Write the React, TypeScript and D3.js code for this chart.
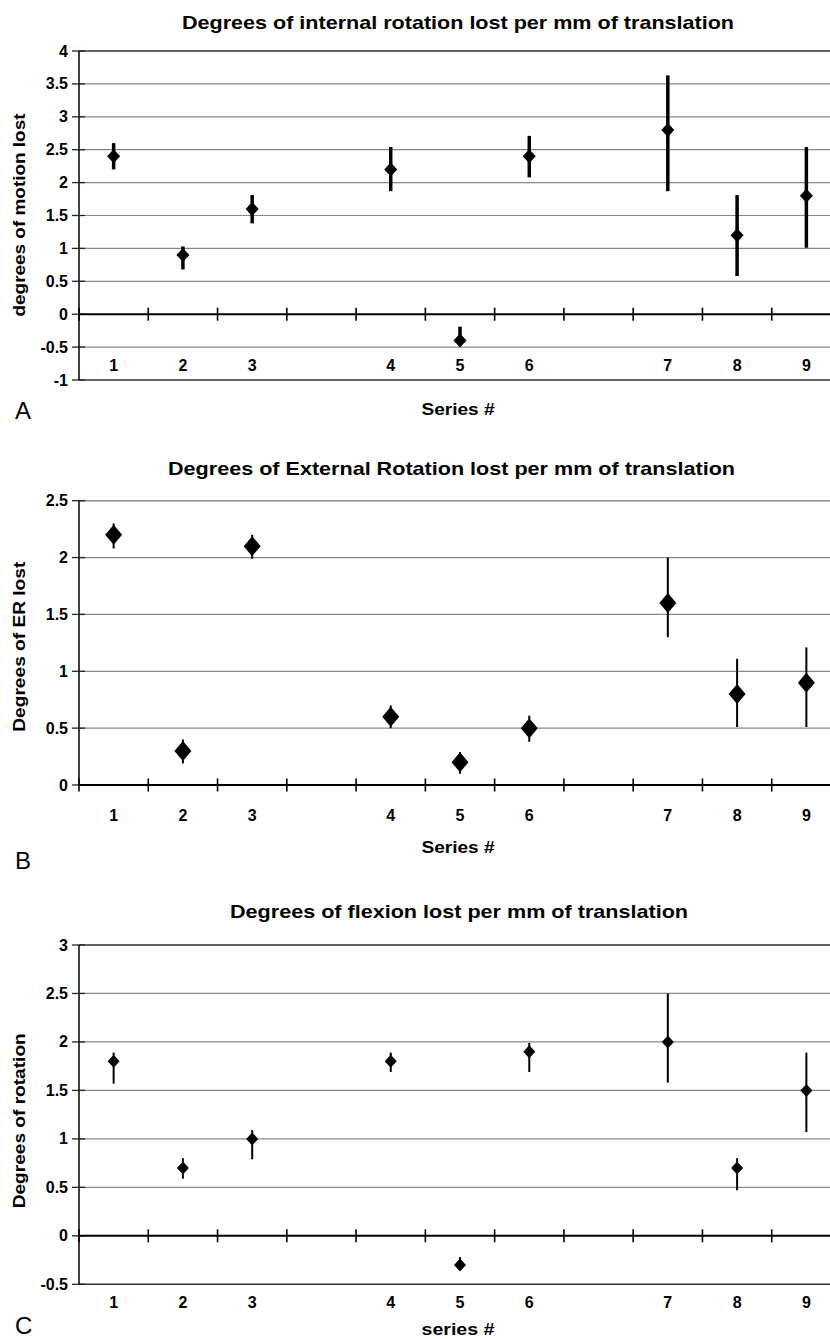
import React from "react";
import * as d3 from "d3";

const categories = ["1", "2", "3", "", "4", "5", "6", "", "7", "8", "9"];
const seriesIds = ["1", "2", "3", "4", "5", "6", "7", "8", "9"];
const slotKeys = ["s1", "s2", "s3", "g1", "s4", "s5", "s6", "g2", "s7", "s8", "s9"];
const seriesSlots = ["s1", "s2", "s3", "s4", "s5", "s6", "s7", "s8", "s9"];

const irValues = [2.4, 0.9, 1.6, 2.2, -0.4, 2.4, 2.8, 1.2, 1.8];
const irUpper = [2.6, 1.03, 1.81, 2.54, -0.19, 2.71, 3.63, 1.81, 2.54];
const irLower = [2.2, 0.68, 1.38, 1.87, -0.45, 2.08, 1.87, 0.58, 1.01];
const irTicks = [-1, -0.5, 0, 0.5, 1, 1.5, 2, 2.5, 3, 3.5, 4];

const erValues = [2.2, 0.3, 2.1, 0.6, 0.2, 0.5, 1.6, 0.8, 0.9];
const erUpper = [2.3, 0.4, 2.2, 0.7, 0.29, 0.61, 2.0, 1.11, 1.21];
const erLower = [2.08, 0.19, 1.99, 0.5, 0.1, 0.38, 1.3, 0.51, 0.51];
const erTicks = [0, 0.5, 1, 1.5, 2, 2.5];

const flValues = [1.8, 0.7, 1.0, 1.8, -0.3, 1.9, 2.0, 0.7, 1.5];
const flUpper = [1.89, 0.8, 1.09, 1.89, -0.22, 1.99, 2.5, 0.8, 1.89];
const flLower = [1.57, 0.59, 0.79, 1.69, -0.35, 1.69, 1.58, 0.47, 1.07];
const flTicks = [-0.5, 0, 0.5, 1, 1.5, 2, 2.5, 3];

const FONT = "'Liberation Sans', Arial, Helvetica, sans-serif";

type PanelProps = {
  title: string;
  titleLen: number;
  titleX: number;
  titleY: number;
  yLabel: string;
  yLabelLen: number;
  yLabelY: number;
  xLabel: string;
  xLabelY: number;
  catLabelY: number;
  letter: string;
  letterY: number;
  top: number;
  bottom: number;
  domain: [number, number];
  ticks: number[];
  values: number[];
  upper: number[];
  lower: number[];
  barWidth: number;
  hw: number;
  hh: number;
};

const x0 = 79;
const x1 = 841;

function Panel(p: PanelProps) {
  const x = d3.scaleBand<string>().domain(slotKeys).range([x0, x1]).padding(0);
  const y = d3.scaleLinear().domain(p.domain).range([p.bottom, p.top]);
  const bw = x.bandwidth();
  const boundaries = slotKeys.map((k) => x(k) as number).concat([x1]);
  const diamond = (cx: number, cy: number) =>
    `M${cx},${cy - p.hh}L${cx + p.hw},${cy}L${cx},${cy + p.hh}L${cx - p.hw},${cy}Z`;
  return (
    <g>
      <text
        x={p.titleX}
        y={p.titleY}
        textAnchor="middle"
        fontFamily={FONT}
        fontWeight="bold"
        fontSize={19}
        textLength={p.titleLen}
        lengthAdjust="spacingAndGlyphs"
      >
        {p.title}
      </text>
      {p.ticks.map((t) => {
        const isEdge = t === p.domain[0] || t === p.domain[1];
        return (
          <g key={"g" + t}>
            {t !== 0 && (
              <line
                x1={x0}
                x2={830}
                y1={y(t)}
                y2={y(t)}
                stroke={isEdge && p.domain[0] !== 0 ? "#333" : "#888"}
                strokeWidth={isEdge ? 1.6 : 1.2}
              />
            )}
            <line x1={x0 - 7} x2={x0 + 6} y1={y(t)} y2={y(t)} stroke="#222" strokeWidth={1.3} />
            <text
              x={68}
              y={y(t) + 5.5}
              textAnchor="end"
              fontFamily={FONT}
              fontWeight="bold"
              fontSize={16}
            >
              {String(t)}
            </text>
          </g>
        );
      })}
      <line x1={x0} x2={x0} y1={p.top} y2={p.bottom} stroke="#111" strokeWidth={1.6} />
      <line x1={x0} x2={830} y1={y(0)} y2={y(0)} stroke="#000" strokeWidth={2} />
      {boundaries.map((b, i) => (
        <line key={"t" + i} x1={b} x2={b} y1={y(0) - 6.5} y2={y(0) + 6.5} stroke="#000" strokeWidth={1.6} />
      ))}
      {slotKeys.map((k, i) => (
        <text
          key={"c" + k}
          x={(x(k) as number) + bw / 2}
          y={p.catLabelY}
          textAnchor="middle"
          fontFamily={FONT}
          fontWeight="bold"
          fontSize={16}
        >
          {categories[i]}
        </text>
      ))}
      {seriesIds.map((s, i) => {
        const cx = (x(seriesSlots[i]) as number) + bw / 2;
        return (
          <g key={"p" + s}>
            <line
              x1={cx}
              x2={cx}
              y1={y(p.upper[i])}
              y2={y(p.lower[i])}
              stroke="#000"
              strokeWidth={p.barWidth}
            />
            <path d={diamond(cx, y(p.values[i]))} fill="#000" />
          </g>
        );
      })}
      <text
        x={0}
        y={0}
        transform={`translate(25,${p.yLabelY}) rotate(-90)`}
        textAnchor="middle"
        fontFamily={FONT}
        fontWeight="bold"
        fontSize={16}
        textLength={p.yLabelLen}
        lengthAdjust="spacingAndGlyphs"
      >
        {p.yLabel}
      </text>
      <text
        x={458}
        y={p.xLabelY}
        textAnchor="middle"
        fontFamily={FONT}
        fontWeight="bold"
        fontSize={16}
        textLength={73}
        lengthAdjust="spacingAndGlyphs"
      >
        {p.xLabel}
      </text>
      <text x={15} y={p.letterY} fontFamily={FONT} fontSize={24}>
        {p.letter}
      </text>
    </g>
  );
}

export default function App() {
  return (
    <svg
      width={830}
      height={1339}
      style={{ position: "absolute", left: 0, top: 0, background: "#fff" }}
    >
      <rect x={0} y={0} width={830} height={1339} fill="#fff" />
      <Panel
        title="Degrees of internal rotation lost per mm of translation"
        titleLen={552}
        titleX={458}
        titleY={28.5}
        yLabel="degrees of motion lost"
        yLabelLen={203}
        yLabelY={215}
        xLabel="Series #"
        xLabelY={414.5}
        catLabelY={370.5}
        letter="A"
        letterY={419}
        top={51}
        bottom={380}
        domain={[-1, 4]}
        ticks={irTicks}
        values={irValues}
        upper={irUpper}
        lower={irLower}
        barWidth={3.5}
        hw={6.5}
        hh={7}
      />
      <Panel
        title="Degrees of External Rotation lost per mm of translation"
        titleLen={567}
        titleX={451.5}
        titleY={475}
        yLabel="Degrees of ER lost"
        yLabelLen={170}
        yLabelY={646.7}
        xLabel="Series #"
        xLabelY={853}
        catLabelY={820.5}
        letter="B"
        letterY={869}
        top={500.7}
        bottom={785}
        domain={[0, 2.5]}
        ticks={erTicks}
        values={erValues}
        upper={erUpper}
        lower={erLower}
        barWidth={2}
        hw={8.5}
        hh={10}
      />
      <Panel
        title="Degrees of flexion lost per mm of translation"
        titleLen={458}
        titleX={459}
        titleY={918.3}
        yLabel="Degrees of rotation"
        yLabelLen={175}
        yLabelY={1120.8}
        xLabel="series #"
        xLabelY={1335}
        catLabelY={1307.5}
        letter="C"
        letterY={1334}
        top={945}
        bottom={1284.3}
        domain={[-0.5, 3]}
        ticks={flTicks}
        values={flValues}
        upper={flUpper}
        lower={flLower}
        barWidth={2}
        hw={6}
        hh={6.5}
      />
    </svg>
  );
}
